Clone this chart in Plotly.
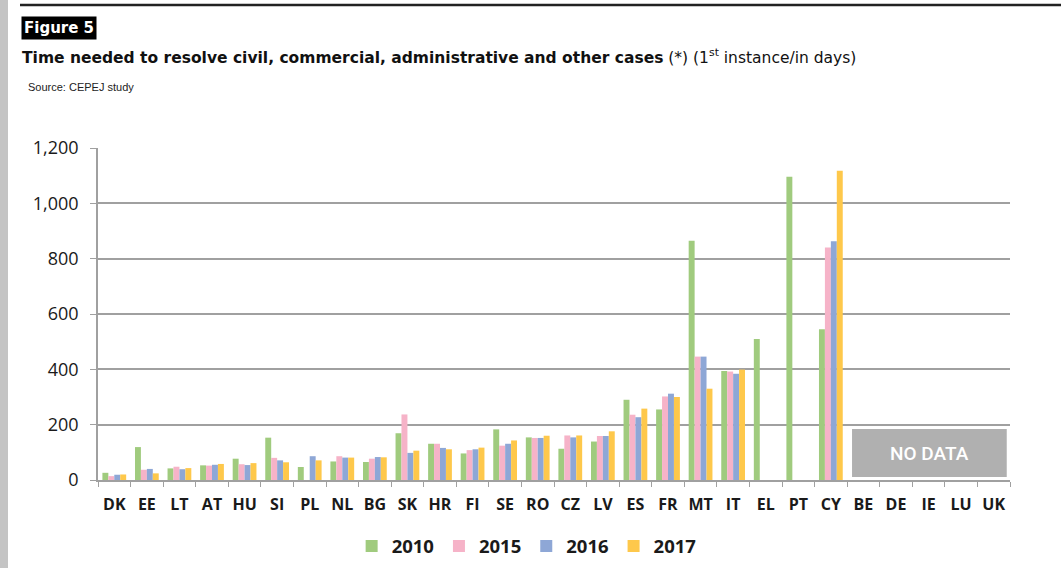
import plotly.graph_objects as go

countries = ["DK","EE","LT","AT","HU","SI","PL","NL","BG","SK","HR","FI","SE","RO","CZ","LV",
             "ES","FR","MT","IT","EL","PT","CY","BE","DE","IE","LU","UK"]
v2010 = [26,119,42,53,77,153,47,67,65,169,131,96,183,154,113,139,290,255,865,394,510,1096,545,None,None,None,None,None]
v2015 = [14,37,48,52,57,80,None,86,77,237,131,108,124,152,161,159,236,302,446,392,None,None,840,None,None,None,None,None]
v2016 = [19,40,39,55,54,71,86,81,83,98,116,111,131,152,154,159,227,312,446,384,None,None,863,None,None,None,None,None]
v2017 = [20,24,43,58,61,64,71,81,82,106,111,117,143,160,161,176,258,300,330,399,None,None,1118,None,None,None,None,None]
years = ["2010","2015","2016","2017"]
colors = ["#A0CB7E","#F6B3C8","#8EA7D6","#FEC84B"]
yticks = [0,200,400,600,800,1000,1200]
yticklabels = ["0","200","400","600","800","1,000","1,200"]

fig = go.Figure()
for name, vals, col in zip(years, [v2010, v2015, v2016, v2017], colors):
    fig.add_trace(go.Bar(x=countries, y=vals, name=name, marker_color=col, marker_line_width=0))

tickfont = dict(family="Open Sans, Liberation Sans, sans-serif", size=18, color="#1a1a1a")

fig.update_layout(
    width=1061, height=568,
    margin=dict(l=98, r=51, t=148, b=88, autoexpand=False),
    paper_bgcolor="white", plot_bgcolor="white",
    barmode="group", bargap=0.27, bargroupgap=0,
    showlegend=True,
    legend=dict(orientation="h", x=0.47, xanchor="center", y=-0.143, yanchor="top",
                font=dict(family="Open Sans, Liberation Sans, sans-serif", size=18.5, color="#1a1a1a", weight="bold"),
                itemwidth=30, traceorder="normal"),
    xaxis=dict(type="category", tickfont=dict(family="Open Sans, Liberation Sans, sans-serif", size=16,
                                              color="#1a1a1a", weight="bold"),
               tickangle=0, automargin=False,
               showgrid=False, showline=True, linecolor="#a0a0a0", linewidth=1.5,
               ticks="outside", tickson="boundaries", ticklen=5, tickcolor="#a0a0a0",
               ticklabelstandoff=9, range=[-0.5, 27.5]),
    yaxis=dict(range=[0, 1200], tickvals=yticks, ticktext=yticklabels, tickfont=tickfont,
               automargin=False,
               showgrid=True, gridcolor="#a0a0a0", gridwidth=1.5,
               showline=True, linecolor="#a0a0a0", linewidth=1.5,
               ticks="outside", ticklen=6, tickcolor="#a0a0a0", zeroline=False,
               ticklabelstandoff=8),
)

# NO DATA box
fig.add_shape(type="rect", xref="x", yref="y", x0=22.65, x1=27.4, y0=11, y1=184,
              fillcolor="#B0B0B0", line=dict(color="#B0B0B0", width=0), layer="above")
fig.add_annotation(xref="x", yref="y", x=25.02, y=97, text="NO DATA", showarrow=False,
                   font=dict(family="Roboto, sans-serif", size=19, color="white", weight=500))

# page decorations
fig.add_shape(type="rect", xref="paper", yref="paper", x0=-98/912, x1=-90/912, y0=-88/332, y1=1.5,
              fillcolor="#c4c4c4", line_width=0, layer="below")
fig.add_shape(type="line", xref="paper", yref="paper", x0=-78/912, x1=1018/912,
              y0=(480-5)/332, y1=(480-5)/332, line=dict(color="#222222", width=2.5))

fig.add_annotation(xref="paper", yref="paper", x=-77/912, y=(480-16)/332, xanchor="left", yanchor="top",
                   text="<b>Figure 5</b>", showarrow=False, bgcolor="black", borderpad=2,
                   font=dict(family="DejaVu Sans, sans-serif", size=15, color="white"))
fig.add_annotation(xref="paper", yref="paper", x=-78/912, y=(480-57)/332, xanchor="left", yanchor="middle",
                   text="<b>Time needed to resolve civil, commercial, administrative and other cases</b> (*) (1<sup>st</sup> instance/in days)",
                   showarrow=False, font=dict(family="DejaVu Sans, sans-serif", size=15.5, color="#111111"))
fig.add_annotation(xref="paper", yref="paper", x=-72/912, y=(480-87)/332, xanchor="left", yanchor="middle",
                   text="Source: CEPEJ study", showarrow=False,
                   font=dict(family="Liberation Sans Narrow, Liberation Sans, sans-serif", size=11, color="#222222"))

fig.write_html("out.html", config={"displayModeBar": False},
               post_script="document.body.style.margin='0';document.body.style.padding='0';")
